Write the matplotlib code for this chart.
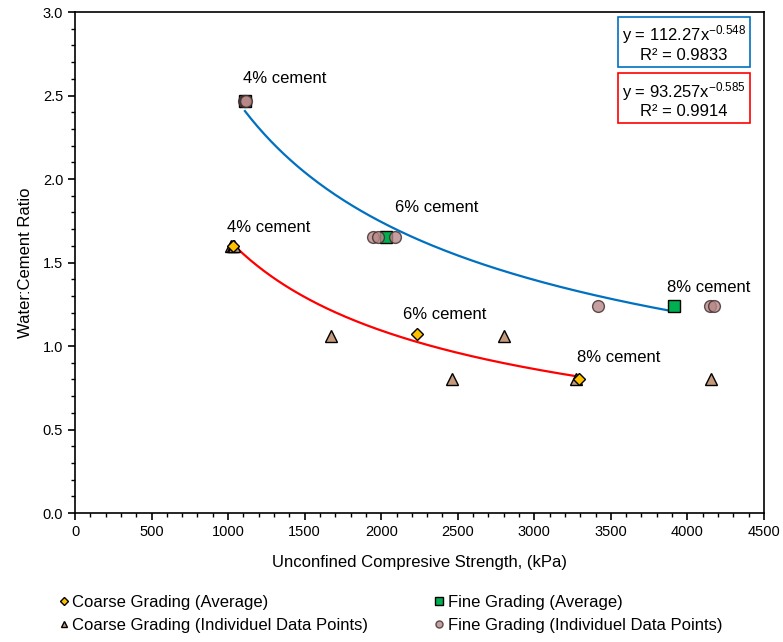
import numpy as np
import matplotlib.pyplot as plt
from matplotlib.ticker import MultipleLocator

plt.rcParams['font.family'] = ['Liberation Sans', 'DejaVu Sans']
plt.rcParams['mathtext.fontset'] = 'custom'
plt.rcParams['mathtext.rm'] = 'Liberation Sans'
plt.rcParams['mathtext.it'] = 'Liberation Sans'
plt.rcParams['mathtext.default'] = 'regular'

# averaged results per cement content (4%, 6%, 8%)
coarse_avg_x = [1030, 2235, 3292]
coarse_avg_y = [1.60, 1.07, 0.80]
fine_avg_x = [1110, 2030, 3912]
fine_avg_y = [2.47, 1.65, 1.24]

# individual specimens
coarse_pts_x = [1020, 1030, 1040, 1672, 2802, 2462, 3272, 4154]
coarse_pts_y = [1.60, 1.60, 1.60, 1.06, 1.06, 0.80, 0.80, 0.80]
fine_pts_x = [1105, 1110, 1115, 1946, 1978, 2090, 3416, 4148, 4174]
fine_pts_y = [2.47, 2.47, 2.47, 1.65, 1.65, 1.65, 1.24, 1.24, 1.24]

# power trendlines y = a * x^b
fine_fit = (112.27, -0.548, 0.9833)
coarse_fit = (93.257, -0.585, 0.9914)

labels = ['4% cement', '4% cement', '6% cement', '6% cement', '8% cement', '8% cement']
label_x = [1097, 993, 2090, 2142, 3867, 3279]
label_y = [2.60, 1.71, 1.83, 1.19, 1.35, 0.93]

fig = plt.figure(figsize=(7.83, 6.42), dpi=100)
ax = fig.add_axes([0.0958, 0.2009, 0.8799, 0.7804])

# trendlines
xf = np.linspace(min(fine_avg_x), max(fine_avg_x), 200)
ax.plot(xf, fine_fit[0] * xf ** fine_fit[1], color='#0070C0', linewidth=1.6, zorder=2)
xc = np.linspace(min(coarse_avg_x), max(coarse_avg_x), 200)
ax.plot(xc, coarse_fit[0] * xc ** coarse_fit[1], color='#FF0000', linewidth=1.6, zorder=2)

# markers
h_ca, = ax.plot(coarse_avg_x, coarse_avg_y, linestyle='none', marker='D', markersize=6.5,
                markerfacecolor='#FFC000', markeredgecolor='black', markeredgewidth=1.0,
                label='Coarse Grading (Average)', zorder=4)
h_fa, = ax.plot(fine_avg_x, fine_avg_y, linestyle='none', marker='s', markersize=8.5,
                markerfacecolor='#00B050', markeredgecolor='black', markeredgewidth=1.0,
                label='Fine Grading (Average)', zorder=3)
h_cp, = ax.plot(coarse_pts_x, coarse_pts_y, linestyle='none', marker='^', markersize=8,
                markerfacecolor='#C49A7A', markeredgecolor='black', markeredgewidth=1.0,
                label='Coarse Grading (Individuel Data Points)', zorder=3)
h_fp, = ax.plot(fine_pts_x, fine_pts_y, linestyle='none', marker='o', markersize=8.5,
                markerfacecolor='#B88888', markeredgecolor='#3a2a2a', markeredgewidth=1.0,
                alpha=0.8, label='Fine Grading (Individuel Data Points)', zorder=5)

for t, x, y in zip(labels, label_x, label_y):
    ax.text(x, y, t, fontsize=12, ha='left', va='center', zorder=6)

# equation boxes
ax.text(0.884, 0.938, 'y = %.2fx$^{%.3f}$\nR² = %.4f' % fine_fit,
        transform=ax.transAxes, ha='center', va='center', fontsize=12,
        linespacing=1.1,
        bbox=dict(boxstyle='square,pad=0.25', facecolor='white', edgecolor='#0070C0', linewidth=1.2))
ax.text(0.884, 0.826, 'y = %.3fx$^{%.3f}$\nR² = %.4f' % coarse_fit,
        transform=ax.transAxes, ha='center', va='center', fontsize=12,
        linespacing=1.1,
        bbox=dict(boxstyle='square,pad=0.25', facecolor='white', edgecolor='#FF0000', linewidth=1.2))

ax.set_xlim(0, 4500)
ax.set_ylim(0, 3.0)
ax.xaxis.set_major_locator(MultipleLocator(500))
ax.xaxis.set_minor_locator(MultipleLocator(100))
ax.yaxis.set_major_locator(MultipleLocator(0.5))
ax.yaxis.set_minor_locator(MultipleLocator(0.1))
ax.yaxis.set_major_formatter(plt.FormatStrFormatter('%.1f'))
ax.tick_params(which='both', direction='out', labelsize=10.5, color='black')
ax.tick_params(which='major', length=5, width=1.2)
ax.tick_params(which='minor', length=3, width=1)
for s in ax.spines.values():
    s.set_linewidth(1.2)

ax.set_xlabel('Unconfined Compresive Strength, (kPa)', fontsize=12, labelpad=12)
ax.set_ylabel('Water:Cement Ratio', fontsize=12, labelpad=7)

fig.legend(handles=[h_ca, h_cp, h_fa, h_fp], ncol=2, loc='upper left',
           bbox_to_anchor=(0.068, 0.084), frameon=False, fontsize=12,
           handlelength=0.5, handletextpad=0.25, columnspacing=4.0,
           labelspacing=0.5, markerscale=0.6, borderaxespad=0)

fig.savefig('out.png', dpi=100)
